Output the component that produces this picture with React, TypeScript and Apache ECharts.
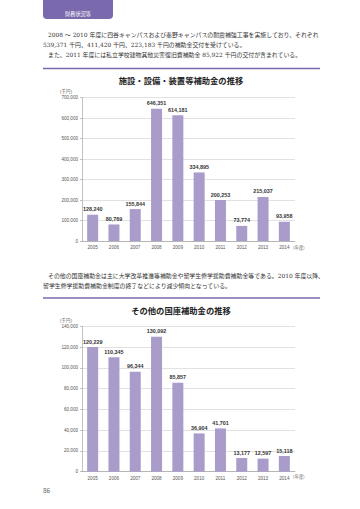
import React, { useEffect, useRef } from "react";
import * as echarts from "echarts";

const years = ["2005", "2006", "2007", "2008", "2009", "2010", "2011", "2012", "2013", "2014"];
const facilitySubsidy = [128240, 80769, 155844, 646351, 614181, 334895, 200253, 73774, 215037, 93958];
const otherSubsidy = [120229, 110345, 96344, 130092, 85857, 36904, 41701, 13177, 12597, 15118];

const title1 = "施設・設備・装置等補助金の推移";
const title2 = "その他の国庫補助金の推移";
const tabText = "財務状況等";
const para1 = [
  "2008 ～ 2010 年度に四谷キャンパスおよび秦野キャンパスの耐震補強工事を実施しており、それぞれ",
  "539,371 千円、411,420 千円、223,183 千円の補助金交付を受けている。",
  "また、2011 年度には私立学校建物其他災害復旧費補助金 85,922 千円の交付が含まれている。",
];
const para2 = [
  "その他の国庫補助金は主に大学改革推進等補助金や留学生修学援助費補助金等である。2010 年度以降、",
  "留学生修学援助費補助金制度の終了などにより減少傾向となっている。",
];
const unitLabel = "（千円）";
const yearUnit = "（年度）";
const pageNo = "86";

const PURPLE = "#7b69ae";
const BAR = "#a99cca";
const JP = "'DejaVu Serif', 'Noto Sans CJK JP', serif";
const SANS = "'Noto Sans CJK JP', 'Noto Sans', sans-serif";

export default function App() {
  const ref = useRef<HTMLDivElement>(null);
  useEffect(() => {
    if (!ref.current) return;
    const chart = echarts.init(ref.current, undefined, { renderer: "svg" });
    const axisLabel = { fontSize: 4.6, color: "#555", fontFamily: "Liberation Sans, Arial, sans-serif" };
    const xAxisCommon = {
      type: "category" as const,
      data: years,
      axisLine: { lineStyle: { color: "#999", width: 0.6 } },
      axisTick: { show: false },
      axisLabel: { ...axisLabel, margin: 4 },
    };
    const yAxisCommon = {
      type: "value" as const,
      axisLine: { show: true, lineStyle: { color: "#999", width: 0.6 } },
      axisTick: { show: true, length: 2, lineStyle: { color: "#999", width: 0.6 } },
      splitLine: { lineStyle: { color: "#d9d9d9", width: 0.8 } },
      axisLabel: {
        ...axisLabel,
        margin: 4,
        formatter: (v: number) => v.toLocaleString("en-US"),
      },
    };
    const barLabel = {
      show: true,
      position: "top" as const,
      distance: 3,
      fontSize: 5.4,
      fontWeight: "bold" as const,
      color: "#333",
      fontFamily: "Liberation Sans, Arial, sans-serif",
      formatter: (p: any) => Number(p.value).toLocaleString("en-US"),
    };
    const textEl = (text: string, x: number, y: number, size: number, extra: any = {}) => ({
      type: "text",
      x,
      y,
      style: { text, fontSize: size, fill: "#333", fontFamily: JP, textVerticalAlign: "middle", ...extra },
    });
    chart.setOption({
      animation: false,
      grid: [
        { left: 82, top: 97.7, width: 213, height: 143.3 },
        { left: 82, top: 326.5, width: 213, height: 145.2 },
      ],
      xAxis: [
        { ...xAxisCommon, gridIndex: 0 },
        { ...xAxisCommon, gridIndex: 1 },
      ],
      yAxis: [
        { ...yAxisCommon, gridIndex: 0, min: 0, max: 700000, interval: 100000 },
        { ...yAxisCommon, gridIndex: 1, min: 0, max: 140000, interval: 20000 },
      ],
      series: [
        {
          type: "bar",
          xAxisIndex: 0,
          yAxisIndex: 0,
          data: facilitySubsidy,
          barWidth: 11,
          itemStyle: { color: BAR },
          label: barLabel,
        },
        {
          type: "bar",
          xAxisIndex: 1,
          yAxisIndex: 1,
          data: otherSubsidy,
          barWidth: 11,
          itemStyle: { color: BAR },
          label: barLabel,
        },
      ],
      graphic: [
        { type: "rect", shape: { x: 43, y: -6, width: 70, height: 25, r: 4 }, style: { fill: PURPLE } },
        textEl(tabText, 78, 13, 5.2, { fill: "#fff", textAlign: "center", fontFamily: SANS }),
        textEl(para1[0], 48, 35, 5.9),
        textEl(para1[1], 43, 45, 5.9),
        textEl(para1[2], 48, 55, 5.9),
        { type: "line", shape: { x1: 43, y1: 68.5, x2: 320, y2: 68.5 }, style: { stroke: PURPLE, lineWidth: 1.6 } },
        textEl(title1, 181, 79.5, 8.3, { textAlign: "center", fontFamily: SANS, fontWeight: "bold", fill: "#222" }),
        textEl(unitLabel, 66, 91, 4.4, { textAlign: "center", fontFamily: SANS, fill: "#555" }),
        textEl(yearUnit, 290.5, 246.5, 4.2, { textAlign: "left", fontFamily: SANS, fill: "#555" }),
        textEl(para2[0], 48, 276, 5.9),
        textEl(para2[1], 43, 285.5, 5.9),
        { type: "line", shape: { x1: 43, y1: 298, x2: 320, y2: 298 }, style: { stroke: PURPLE, lineWidth: 1.6 } },
        textEl(title2, 181, 309.5, 8.3, { textAlign: "center", fontFamily: SANS, fontWeight: "bold", fill: "#222" }),
        textEl(unitLabel, 66, 320, 4.4, { textAlign: "center", fontFamily: SANS, fill: "#555" }),
        textEl(yearUnit, 290.5, 475.5, 4.2, { textAlign: "left", fontFamily: SANS, fill: "#555" }),
        textEl(pageNo, 43, 490, 6.5, { fill: "#666", fontFamily: SANS }),
      ],
    });
    return () => chart.dispose();
  }, []);
  return (
    <div
      ref={ref}
      style={{ position: "fixed", left: 0, top: 0, width: 360, height: 509, background: "#fff" }}
    />
  );
}
